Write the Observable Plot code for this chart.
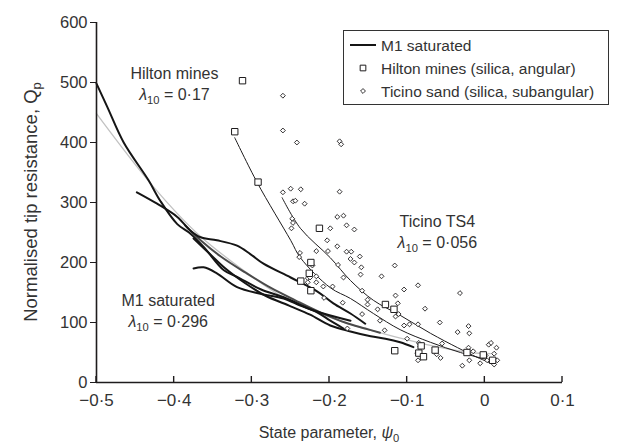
<!DOCTYPE html>
<html><head><meta charset="utf-8">
<script src="https://cdn.jsdelivr.net/npm/d3@7"></script>
<script src="https://cdn.jsdelivr.net/npm/@observablehq/plot@0.6"></script>
<style>
body{margin:0;background:#fff;}
#wrap{position:relative;width:641px;height:443px;}
</style></head><body><div id="wrap"></div>
<script>
// ---- data (state parameter psi0, normalised tip resistance Qp) ----
const xTicks = [-0.5,-0.4,-0.3,-0.2,-0.1,0,0.1];
const yTicks = [0,100,200,300,400,500,600];

const ticinoSand = [
[-0.260,478],[-0.260,420],[-0.242,400],[-0.187,402],[-0.185,397],
[-0.260,317],[-0.250,323],[-0.237,322],[-0.187,318],
[-0.247,302],[-0.244,303],[-0.232,298],
[-0.190,276],[-0.182,278],
[-0.248,273],[-0.247,266],[-0.249,257],
[-0.199,257],[-0.178,262],[-0.168,255],
[-0.203,237],[-0.190,227],
[-0.217,219],[-0.202,219],[-0.178,218],[-0.172,218],
[-0.238,216],[-0.239,209],
[-0.173,206],[-0.168,200],[-0.161,210],
[-0.189,196],[-0.222,195],[-0.159,192],
[-0.228,174],[-0.225,175],[-0.217,177],[-0.182,175],[-0.160,180],[-0.133,177],
[-0.116,195],
[-0.228,167],[-0.217,167],
[-0.208,160],[-0.196,160],[-0.158,153],
[-0.086,162],[-0.104,155],[-0.115,145],[-0.032,149],
[-0.207,141],
[-0.183,133],[-0.151,138],[-0.151,130],[-0.138,122],[-0.112,132],[-0.111,114],[-0.115,110],[-0.077,123],
[-0.158,114],[-0.135,103],[-0.104,95],[-0.097,97],[-0.086,97],[-0.058,100],[-0.021,94],[-0.035,84],[-0.020,82],
[0.005,63],[-0.177,90],[-0.129,87],[-0.100,73],[-0.055,65],[-0.085,66],[-0.083,60],[-0.087,49],[-0.062,47],
[-0.057,41],[-0.086,37],[-0.029,28],[-0.020,37],[-0.021,58],[-0.015,52],[0.001,45],[0.003,37],
[0.008,66],[0.015,58],[0.012,48],[0.016,37],[-0.006,32],[0.012,30]
];

const hiltonMines = [
[-0.312,503],[-0.322,418],[-0.292,334],[-0.213,257],[-0.224,200],[-0.226,182],[-0.237,169],[-0.224,153],
[-0.128,130],[-0.117,122],[-0.116,53],[-0.082,61],[-0.085,49],[-0.079,43],[-0.064,54],[-0.023,50],[-0.002,46],[0.010,37]
];

const hiltonFit = [[-0.322,408],[-0.293,333],[-0.250,237],[-0.2375,208],[-0.199,158],[-0.173,140],[-0.1435,115],[-0.109,88],[-0.070,67],[-0.0315,50],[0.010,36]];
const ticinoFit = [[-0.261,308],[-0.2375,257],[-0.199,208],[-0.173,170],[-0.1435,137],[-0.109,112],[-0.070,82],[-0.035,58],[-0.010,42],[0.012,30]];
const m1Fit = [[-0.5,448],[-0.428,328],[-0.370,248],[-0.298,175],[-0.259,142],[-0.169,95],[-0.135,83],[-0.070,62],[-0.019,50],[0.007,48]];

const m1TestA = [[-0.5,498],[-0.486,459],[-0.465,400],[-0.433,337],[-0.418,303],[-0.396,264],[-0.379,248],[-0.362,226],[-0.336,187],[-0.319,176],[-0.288,155],[-0.259,142],[-0.220,120],[-0.173,103]];
const m1TestB = [[-0.448,317],[-0.422,298],[-0.396,276],[-0.379,253],[-0.366,242],[-0.345,237],[-0.319,228],[-0.302,214],[-0.285,198],[-0.250,175],[-0.216,152],[-0.195,132],[-0.173,115],[-0.154,98]];
const m1TestC = [[-0.375,190],[-0.362,192],[-0.345,182],[-0.319,159],[-0.289,148],[-0.259,140],[-0.2375,128],[-0.216,117],[-0.199,103],[-0.182,90]];
const m1TestD = [[-0.386,262],[-0.366,237],[-0.340,210],[-0.308,183],[-0.276,158],[-0.244,137],[-0.212,117],[-0.180,100],[-0.154,90],[-0.135,83]];
const m1TestE = [[-0.375,240],[-0.353,213],[-0.334,190],[-0.308,165],[-0.283,145],[-0.250,127],[-0.225,113],[-0.199,95],[-0.173,85],[-0.147,77],[-0.128,73],[-0.109,67],[-0.092,59]];

const annotations = [
  {x:-0.399, y:515, title:"Hilton mines", lambda:"0·17"},
  {x:-0.0605, y:268, title:"Ticino TS4", lambda:"0·056"},
  {x:-0.407, y:137, title:"M1 saturated", lambda:"0·296"}
];

// ---- build ----
const toRows = (arr, id) => arr.map(([x,y]) => ({x, y, id}));
const m1Rows = [...toRows(m1TestA,"A"), ...toRows(m1TestB,"B"), ...toRows(m1TestC,"C"), ...toRows(m1TestE,"E")];
const ink = "#1e1c1d";
const textInk = "#333";
const font = "'Liberation Sans', Arial, Helvetica, sans-serif";
const fmtX = d => d === 0 ? "0" : (d < 0 ? "\u2212" : "") + Math.abs(d).toFixed(1).replace(".", "\u00b7");

const plot = Plot.plot({
  width: 641, height: 443,
  marginLeft: 96, marginRight: 79, marginTop: 22, marginBottom: 61,
  x: {domain: [-0.5, 0.1]},
  y: {domain: [0, 600]},
  style: {fontFamily: font, fontSize: "17px", color: textInk, background: "white", overflow: "visible"},
  marks: [
    Plot.line(toRows(m1Fit,"fit"), {x:"x", y:"y", stroke:"#c2c2c2", strokeWidth:1.3, curve:"catmull-rom"}),
    Plot.line(toRows(m1TestD,"D"), {x:"x", y:"y", stroke:"#4a4a4a", strokeWidth:2, curve:"catmull-rom"}),
    Plot.line(m1Rows, {x:"x", y:"y", z:"id", stroke:"#151515", strokeWidth:2, curve:"catmull-rom"}),
    Plot.line(toRows(hiltonFit,"h"), {x:"x", y:"y", stroke:ink, strokeWidth:1, curve:"catmull-rom"}),
    Plot.line(toRows(ticinoFit,"t"), {x:"x", y:"y", stroke:ink, strokeWidth:1, curve:"catmull-rom"}),
    Plot.dot(toRows(ticinoSand,"ts"), {x:"x", y:"y", symbol:"diamond2", r:2.2, stroke:ink, fill:"white", strokeWidth:0.9}),
    Plot.dot(toRows(hiltonMines,"hm"), {x:"x", y:"y", symbol:"square", r:3.6, stroke:ink, fill:"white", strokeWidth:1}),
    Plot.axisX(xTicks, {tickSize: 0, tickPadding: 11, tickFormat: fmtX, label: null, fontSize: 17}),
    Plot.axisY(yTicks, {tickSize: 6, tickPadding: 3, label: null, fontSize: 16.5, stroke: ink}),
    Plot.ruleY([0], {stroke: ink, strokeWidth: 1.6}),
    Plot.ruleX([-0.5], {stroke: ink, strokeWidth: 1.6})
  ]
});

document.getElementById("wrap").appendChild(plot);
const sx = plot.scale("x"), sy = plot.scale("y");
const svg = d3.select(plot);

// inward x ticks
const gT = svg.append("g").attr("stroke", ink).attr("stroke-width", 1.4);
xTicks.forEach(v => gT.append("line")
  .attr("x1", sx.apply(v)).attr("x2", sx.apply(v))
  .attr("y1", sy.apply(0)).attr("y2", sy.apply(0) - 6));

function rich(g, x, y, parts, anchor, size) {
  const t = g.append("text").attr("x", x).attr("y", y).attr("text-anchor", anchor || "middle");
  if (size) t.attr("font-size", size);
  parts.forEach(p => {
    const s = t.append("tspan").text(p.t);
    if (p.i) s.attr("font-style", "italic");
    if (p.sub) s.attr("font-size", "0.7em").attr("dy", 4);
    if (p.up) s.attr("dy", -4);
  });
  return t;
}
const gA = svg.append("g").attr("font-family", font).attr("font-size", 16).attr("fill", textInk);
annotations.forEach(a => {
  const cx = sx.apply(a.x), cy = sy.apply(a.y);
  rich(gA, cx, cy + 6, [{t: a.title}]);
  rich(gA, cx, cy + 27, [{t: "λ", i: true}, {t: "10", sub: true}, {t: " = " + a.lambda, up: true}]);
});

// axis titles
const x0 = sx.apply(-0.5), x1 = sx.apply(0.1), y0 = sy.apply(0), y1 = sy.apply(600);
rich(gA, (x0 + x1) / 2, 438, [{t: "State parameter, "}, {t: "ψ", i: true}, {t: "0", sub: true}], "middle", 16);
const yt = rich(gA, 0, 0, [{t: "Normalised tip resistance, Q"}, {t: "p", sub: true}], "middle", 18.5);
yt.attr("transform", `translate(37,${(y0 + y1) / 2}) rotate(-90)`);

// legend
const gL = svg.append("g").attr("font-family", font).attr("font-size", 15.5).attr("fill", textInk).attr("text-anchor", "start");
gL.append("rect").attr("x", 343.5).attr("y", 30.5).attr("width", 265).attr("height", 74)
  .attr("fill", "white").attr("stroke", "#333").attr("stroke-width", 1);
gL.append("line").attr("x1", 350).attr("x2", 376).attr("y1", 45).attr("y2", 45).attr("stroke", "#151515").attr("stroke-width", 2);
gL.append("text").attr("x", 381).attr("y", 50.5).text("M1 saturated");
gL.append("path").attr("d", d3.symbol(d3.symbolSquare, Math.PI * 3.2 * 3.2)())
  .attr("transform", "translate(363,68)").attr("fill", "white").attr("stroke", ink);
gL.append("text").attr("x", 381).attr("y", 73.5).text("Hilton mines (silica, angular)");
gL.append("path").attr("d", d3.symbol(d3.symbolDiamond2, Math.PI * 2.2 * 2.2)())
  .attr("transform", "translate(363,91)").attr("fill", "white").attr("stroke", ink).attr("stroke-width", 0.9);
gL.append("text").attr("x", 381).attr("y", 96.5).text("Ticino sand (silica, subangular)");
</script></body></html>
